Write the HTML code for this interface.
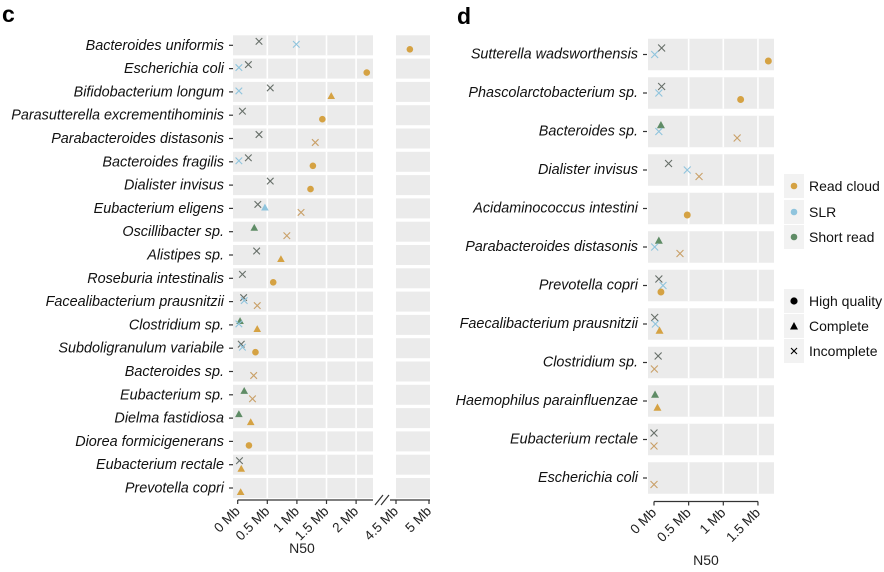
<!DOCTYPE html>
<html><head><meta charset="utf-8"><style>
body{margin:0;background:#fff;width:884px;height:572px;overflow:hidden}
svg{display:block;font-family:"Liberation Sans",sans-serif}
.lab{font-style:italic;font-size:14.4px;fill:#111}
.tk{font-size:13.5px;fill:#222}
</style></head><body>
<svg id="chart" width="884" height="572">
<text x="2" y="22" font-size="23" font-weight="bold">c</text>
<text x="457" y="24" font-size="23" font-weight="bold">d</text>
<g id="pc"></g>
<g id="pd"></g>
<g id="legend"></g>
</svg>
<script>
const speciesC=["Bacteroides uniformis","Escherichia coli","Bifidobacterium longum","Parasutterella excrementihominis","Parabacteroides distasonis","Bacteroides fragilis","Dialister invisus","Eubacterium eligens","Oscillibacter sp.","Alistipes sp.","Roseburia intestinalis","Facealibacterium prausnitzii","Clostridium sp.","Subdoligranulum variabile","Bacteroides sp.","Eubacterium sp.","Dielma fastidiosa","Diorea formicigenerans","Eubacterium rectale","Prevotella copri"];
const rcC=[4.71,2.18,1.58,1.43,1.31,1.27,1.23,1.07,0.83,0.73,0.60,0.33,0.33,0.30,0.27,0.25,0.22,0.19,0.06,0.05];
const rcShapeC=["h","h","c","h","i","h","h","i","i","c","h","i","c","h","i","i","c","h","c","c"];
const slrC=[0.99,0.02,0.02,null,null,0.02,null,0.46,null,null,null,0.11,0.02,0.08,null,null,null,null,null,null];
const slrShapeC=["i","i","i",null,null,"i",null,"c",null,null,null,"i","i","i",null,null,null,null,null,null];
const srC=[0.36,0.18,0.55,0.08,0.36,0.18,0.55,0.34,0.28,0.32,0.08,0.10,0.04,0.06,null,0.11,0.02,null,0.03,null];
const srShapeC=["i","i","i","i","i","i","i","i","c","i","i","i","c","i",null,"c","c",null,"i",null];
const ticksC=[0,0.5,1,1.5,2,4.5,5];
const tickLabelsC=["0 Mb","0.5 Mb","1 Mb","1.5 Mb","2 Mb","4.5 Mb","5 Mb"];

const speciesD=["Sutterella wadsworthensis","Phascolarctobacterium sp.","Bacteroides sp.","Dialister invisus","Acidaminococcus intestini","Parabacteroides distasonis","Prevotella copri","Faecalibacterium prausnitzii","Clostridium sp.","Haemophilus parainfluenzae","Eubacterium rectale","Escherichia coli"];
const rcD=[1.65,1.25,1.2,0.65,0.48,0.375,0.1,0.08,0.005,0.05,0.0,0.0];
const rcShapeD=["h","h","i","i","h","i","h","c","i","c","i","i"];
const slrD=[0.01,0.07,0.07,0.48,null,0.01,0.13,0.02,null,null,null,null];
const slrShapeD=["i","i","i","i",null,"i","i","i",null,null,null,null];
const srD=[0.11,0.11,0.1,0.21,null,0.07,0.07,0.01,0.06,0.015,0.0,null];
const srShapeD=["i","i","c","i",null,"c","i","i","i","c","i",null];
const ticksD=[0,0.5,1,1.5];
const tickLabelsD=["0 Mb","0.5 Mb","1 Mb","1.5 Mb"];

const NS="http://www.w3.org/2000/svg";
const COL={rc:"#d5a243",slr:"#8fc4dd",sr:"#5f8c66"};
const XCOL={rc:"#c9a068",slr:"#8fc4dd",sr:"#666e68"};
function mk(parent,tag,attrs,text){const e=document.createElementNS(NS,tag);for(const k in attrs)e.setAttribute(k,attrs[k]);if(text!=null)e.textContent=text;parent.appendChild(e);return e;}
function xC(v){return v<=2.3?237.7+v*59.2:396+(v-4.5)*66;}
function xD(v){return 654+v*69.3;}
function marker(g,x,y,shape,series,s){
  let e;
  if(shape==="h"){e=mk(g,"circle",{cx:x,cy:y,r:3.3*s,fill:COL[series]});}
  else if(shape==="c"){const h=3.8*s;e=mk(g,"polygon",{points:`${x},${y-h} ${x-h},${y+h*0.8} ${x+h},${y+h*0.8}`,fill:COL[series]});}
  else{const h=3.3*s;e=mk(g,"path",{d:`M${x-h},${y-h}L${x+h},${y+h}M${x-h},${y+h}L${x+h},${y-h}`,stroke:XCOL[series],"stroke-width":1.1,fill:"none"});}
  
  
}
(function(){
  const g=document.getElementById("pc");
  const top=45.3,step=23.3,bh=20;
  speciesC.forEach((sp,i)=>{
    const cy=top+i*step;
    const b1=mk(g,"rect",{x:233,y:cy-bh/2,width:140,height:bh,fill:"#ebebeb"});
    
    
    mk(g,"rect",{x:396,y:cy-bh/2,width:34,height:bh,fill:"#ebebeb"});
    [0.5,1,1.5,2].forEach(t=>mk(g,"line",{x1:xC(t),x2:xC(t),y1:cy-bh/2,y2:cy+bh/2,stroke:"#fff","stroke-width":1.6}));
    mk(g,"line",{x1:229,x2:233,y1:cy,y2:cy,stroke:"#333","stroke-width":1.2});
    const t=mk(g,"text",{x:224,y:cy+4.5,"text-anchor":"end",class:"lab"},sp);
    
    
    if(srC[i]!=null)marker(g,xC(srC[i]),cy-4,srShapeC[i],"sr",1);
    if(slrC[i]!=null)marker(g,xC(slrC[i]),cy-1,slrShapeC[i],"slr",1);
    marker(g,xC(rcC[i]),cy+4,rcShapeC[i],"rc",1);
  });
  const ay=500;
  mk(g,"line",{x1:237.7,x2:373,y1:ay,y2:ay,stroke:"#333","stroke-width":1.2});
  mk(g,"line",{x1:390,x2:430,y1:ay,y2:ay,stroke:"#333","stroke-width":1.2});
  mk(g,"path",{d:"M375,505L383,495M381,505L389,495",stroke:"#333","stroke-width":1.2,fill:"none"});
  ticksC.forEach((t,i)=>{const x=xC(t);
    mk(g,"line",{x1:x,x2:x,y1:ay,y2:ay+4,stroke:"#333","stroke-width":1.2});
    const tl=mk(g,"text",{x:x+3,y:ay+12,"text-anchor":"end",class:"tk",transform:`rotate(-45 ${x+3} ${ay+12})`},tickLabelsC[i]);
    
    
  });
  const xt=mk(g,"text",{x:302,y:553,"text-anchor":"middle","font-size":14,fill:"#222"},"N50");
  
  
})();
(function(){
  const g=document.getElementById("pd");
  const top=54.5,step=38.5,bh=31.5;
  speciesD.forEach((sp,i)=>{
    const cy=top+i*step;
    const b=mk(g,"rect",{x:648,y:cy-bh/2,width:126,height:bh,fill:"#ebebeb"});
    
    
    [0.5,1,1.5].forEach(t=>mk(g,"line",{x1:xD(t),x2:xD(t),y1:cy-bh/2,y2:cy+bh/2,stroke:"#fff","stroke-width":1.6}));
    mk(g,"line",{x1:643,x2:647,y1:cy,y2:cy,stroke:"#333","stroke-width":1.2});
    const t=mk(g,"text",{x:638,y:cy+4,"text-anchor":"end",class:"lab"},sp);
    
    
    if(srD[i]!=null)marker(g,xD(srD[i]),cy-6.5,srShapeD[i],"sr",1.05);
    if(slrD[i]!=null)marker(g,xD(slrD[i]),cy,slrShapeD[i],"slr",1.05);
    marker(g,xD(rcD[i]),cy+6.5,rcShapeD[i],"rc",1.05);
  });
  const ay=501.5;
  mk(g,"line",{x1:654,x2:758,y1:ay,y2:ay,stroke:"#333","stroke-width":1.2});
  ticksD.forEach((t,i)=>{const x=xD(t);
    mk(g,"line",{x1:x,x2:x,y1:ay,y2:ay+4,stroke:"#333","stroke-width":1.2});
    const tl=mk(g,"text",{x:x+3,y:ay+12,"text-anchor":"end",class:"tk",transform:`rotate(-45 ${x+3} ${ay+12})`},tickLabelsD[i]);
    
    
  });
  const xt=mk(g,"text",{x:706,y:565,"text-anchor":"middle","font-size":14,fill:"#222"},"N50");
  
  
})();
(function(){
  const g=document.getElementById("legend");
  const items=[["Read cloud","rc",186,"dot"],["SLR","slr",212,"dot"],["Short read","sr",237,"dot"],["High quality","k",301,"h"],["Complete","k",326,"c"],["Incomplete","k",351,"i"]];
  items.forEach(it=>{
    const [lab,s,y,sh]=it;
    mk(g,"rect",{x:784,y:y-12,width:20,height:24,fill:"#f2f2f2"});
    const c=s==="k"?"#000":COL[s];
    if(sh==="dot"||sh==="h")mk(g,"circle",{cx:794,cy:y,r:sh==="h"?3.6:3.3,fill:c});
    else if(sh==="c")mk(g,"polygon",{points:`794,${y-4} 790,${y+3.5} 798,${y+3.5}`,fill:c});
    else mk(g,"path",{d:`M791,${y-3}L797,${y+3}M791,${y+3}L797,${y-3}`,stroke:"#000","stroke-width":1.1});
    const t=mk(g,"text",{x:809,y:y+5,"font-size":14,fill:"#111"},lab);
    
    
  });
})();
</script>
</body></html>
